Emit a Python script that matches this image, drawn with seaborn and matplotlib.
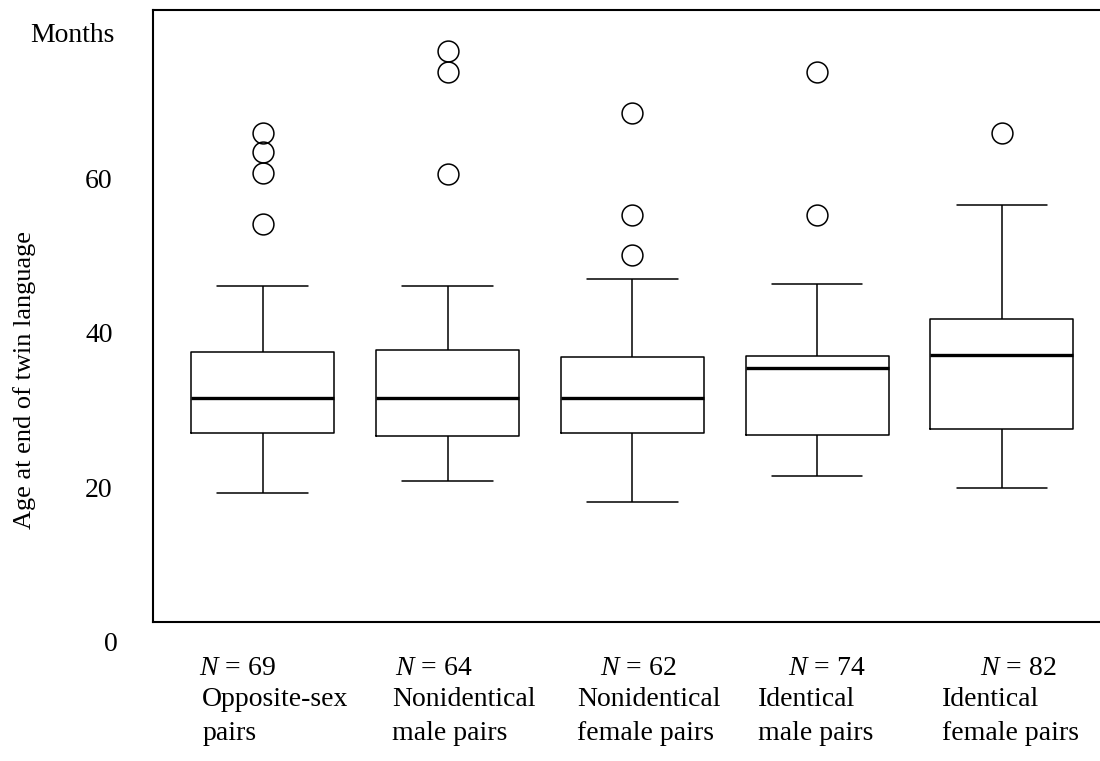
import numpy as np
import pandas as pd
import matplotlib
matplotlib.use("Agg")
import matplotlib.pyplot as plt
import seaborn as sns
from matplotlib.transforms import blended_transform_factory

# ---- data (months) ----
groups = ["Opposite-sex\npairs", "Nonidentical\nmale pairs", "Nonidentical\nfemale pairs",
          "Identical\nmale pairs", "Identical\nfemale pairs"]
n_pairs = [69, 64, 62, 74, 82]
whisker_low = [19.3, 20.8, 18.1, 21.4, 19.9]
q1 = [27.0, 26.6, 27.0, 26.8, 27.5]
median = [31.5, 31.5, 31.5, 35.4, 37.1]
q3 = [37.5, 37.7, 36.8, 37.0, 41.8]
whisker_high = [46.0, 46.0, 47.0, 46.3, 56.5]
outliers = [[54.1, 60.7, 63.4, 65.9],
            [60.6, 73.8, 76.5],
            [50.1, 55.3, 68.5],
            [55.3, 73.8],
            [65.9]]
y_ticks = [20, 40, 60]

# Build a representative sample per group whose box-plot summary equals the values read
rows = []
for g, lo, a, m, b, hi, outs in zip(groups, whisker_low, q1, median, q3, whisker_high, outliers):
    k = len(outs)
    sample = [lo] * (k + 1) + [a] * (k + 2) + [m] + [b] * (k + 2) + [hi] + list(outs)
    rows += [(g, v) for v in sample]
df = pd.DataFrame(rows, columns=["group", "months"])

# ---- styling ----
sns.set_theme(style="white")
plt.rcParams["font.family"] = ["Liberation Serif", "DejaVu Serif"]
plt.rcParams["mathtext.fontset"] = "custom"
plt.rcParams["mathtext.rm"] = "Liberation Serif"
plt.rcParams["mathtext.it"] = "Liberation Serif:italic"

W, H = 1100, 761
fig = plt.figure(figsize=(W / 100, H / 100), dpi=100)
ax_left, ax_top, ax_bottom = 153, 10, 622.3
ax = fig.add_axes([ax_left / W, 1 - ax_bottom / H, (W - ax_left) / W, (ax_bottom - ax_top) / H])

box_width = 0.774
sns.boxplot(data=df, x="group", y="months", order=groups, width=box_width, whis=1.2,
            fill=False, color="black", linecolor="black", linewidth=1.1, fliersize=15,
            medianprops=dict(linewidth=2.4, color="black"),
            flierprops=dict(marker="o", markerfacecolor="none", markeredgecolor="black",
                            markeredgewidth=1.1),
            ax=ax)

# widen whisker caps to match the reference; make lines pure black
cap_half = 0.245
for ln in ax.lines:
    ln.set_color("black")
    xd, yd = np.asarray(ln.get_xdata(), float), np.asarray(ln.get_ydata(), float)
    if len(xd) == 2 and yd[0] == yd[1]:
        span = abs(xd[1] - xd[0])
        if abs(span - 0.5 * box_width) < 1e-6:
            c = xd.mean()
            ln.set_xdata([c - cap_half, c + cap_half])
        elif abs(span - box_width) < 1e-6:
            ln.set_linewidth(2.4)
for ln in ax.lines:
    if ln.get_marker() == "o":
        ln.set_markerfacecolor("none")
        ln.set_markeredgecolor("black")

ax.set_xlim(-0.594, 4.531)
ax.set_ylim(2.49, 81.8)
ax.set_yticks(y_ticks)
ax.set_yticklabels([str(t) for t in y_ticks])
ax.tick_params(axis="y", length=0, pad=29, labelsize=20, colors="black")
ax.set_xticks(range(len(groups)))
ax.set_xticklabels([])
ax.tick_params(axis="x", length=0)
ax.set_xlabel("")

for s in ["left", "top", "bottom"]:
    ax.spines[s].set_color("black")
    ax.spines[s].set_linewidth(1.5)
ax.spines["right"].set_visible(False)

ax.set_ylabel("Age at end of twin language", fontsize=19, color="black")
ax.yaxis.set_label_coords(-0.1352, 0.396)
ax.yaxis.label.set_va("center")

# "0" label below the frame
tr_y = blended_transform_factory(ax.transAxes, ax.transData)
ax.text(-0.037, 0, "0", transform=tr_y, ha="right", va="center_baseline",
        fontsize=20, color="black", clip_on=False)

# "Months" unit label
fig.text(115 / W, 1 - 41.7 / H, "Months", ha="right", va="baseline", fontsize=20, color="black")

# N labels and category labels under each box
tr_x = blended_transform_factory(ax.transData, ax.transAxes)
n_offsets = [-0.345, -0.284, -0.175, -0.157, -0.119]
cat_offsets = [-0.328, -0.300, -0.299, -0.320, -0.324]
for i, (g, n) in enumerate(zip(groups, n_pairs)):
    ax.text(i + n_offsets[i], -0.0861, f"$N$ = {n}", transform=tr_x, ha="left",
            va="baseline", fontsize=20, color="black", clip_on=False)
    ax.text(i + cat_offsets[i], -0.1922, g, transform=tr_x, ha="left", va="baseline",
            multialignment="left", linespacing=1.46, fontsize=20, color="black", clip_on=False)

fig.savefig("out.png", dpi=100)
